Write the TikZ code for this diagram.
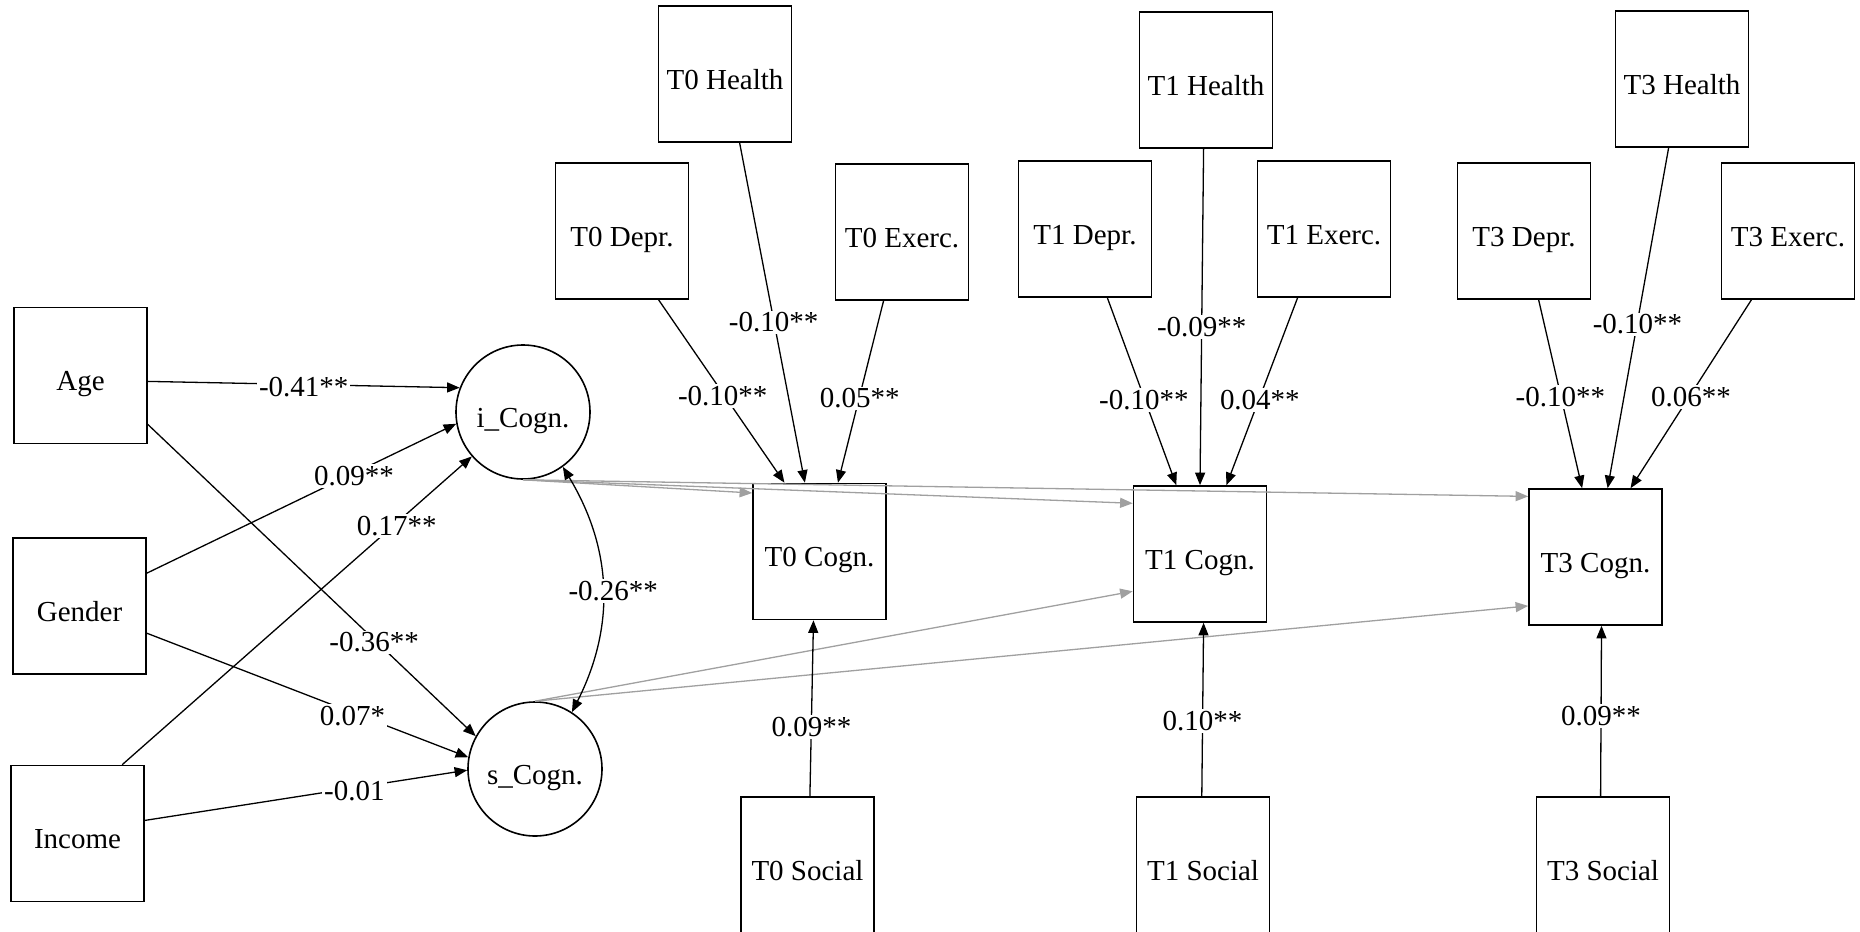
\documentclass[tikz,border=0pt]{standalone}
\usepackage{fontspec}
\setmainfont{Liberation Serif}
\usetikzlibrary{arrows.meta}
\definecolor{pathgray}{RGB}{160,160,160}
\begin{document}
\begin{tikzpicture}[x=0.5pt,y=-0.5pt,
  obs/.style={draw, line width=0.8pt, minimum width=66.5pt, minimum height=68pt, inner sep=0pt, text height=18pt, text depth=3pt, font=\fontsize{14.5}{17}\selectfont},
  lat/.style={draw, circle, line width=0.8pt, minimum size=67pt, inner sep=0pt, text height=18pt, text depth=3pt, font=\fontsize{14.5}{17}\selectfont},
  tip/.style={Triangle[length=6.3pt,width=5pt]},
  arr/.style={line width=0.65pt, -{Triangle[length=6.3pt,width=5pt]}},
  garr/.style={line width=0.65pt, draw=pathgray, color=pathgray, -{Triangle[length=6.3pt,width=5pt]}},
  cov/.style={line width=0.65pt, {Triangle[length=6.3pt,width=5pt]}-{Triangle[length=6.3pt,width=5pt]}},
  lbl/.style={fill=white, inner sep=1pt, text=black, yshift=-1.5pt, font=\fontsize{14.5}{16}\selectfont}]
\useasboundingbox (0,0) rectangle (1860,932);

% observed covariates
\node[obs] (age) at (80.5,375.5) {Age};
\node[obs] (gen) at (79.5,606) {Gender};
\node[obs] (inc) at (77.5,833.5) {Income};
% latent growth factors
\node[lat] (ic) at (523,412) {i\_Cogn.};
\node[lat] (sc) at (535,769) {s\_Cogn.};
% T0
\node[obs] (h0) at (725,74) {T0 Health};
\node[obs] (d0) at (622,231) {T0 Depr.};
\node[obs] (e0) at (902,232) {T0 Exerc.};
\node[obs] (c0) at (819.5,551.5) {T0 Cogn.};
\node[obs] (so0) at (807.5,865) {T0 Social};
% T1
\node[obs] (h1) at (1206,80) {T1 Health};
\node[obs] (d1) at (1085,229) {T1 Depr.};
\node[obs] (e1) at (1324,229) {T1 Exerc.};
\node[obs] (c1) at (1200,554) {T1 Cogn.};
\node[obs] (so1) at (1203,865) {T1 Social};
% T3
\node[obs] (h3) at (1682,79) {T3 Health};
\node[obs] (d3) at (1524,231) {T3 Depr.};
\node[obs] (e3) at (1788,231) {T3 Exerc.};
\node[obs] (c3) at (1595.5,557) {T3 Cogn.};
\node[obs] (so3) at (1603,865) {T3 Social};

% growth loadings (gray)
\draw[garr] (ic.south) -- (c0.139);
\draw[garr] (ic.south) -- (c1.143);
\draw[garr] (ic.south) -- (c3.138);
\draw[garr] (sc.north) -- (c1.209);
\draw[garr] (sc.north) -- (c3.216);

% covariates -> growth factors
\draw[arr] (age.-5) -- node[lbl,pos=0.5] {-0.41**} (ic.159);
\draw[arr] (gen.26) -- node[lbl,pos=0.67] {0.09**} (ic.190);
\draw[arr] (inc.57) -- node[lbl,pos=0.785] {0.17**} (ic.221);
\draw[arr] (age.-36) -- node[lbl,pos=0.69] {-0.36**} (sc.151);
\draw[arr] (gen.-22) -- node[lbl,pos=0.64] {0.07*} (sc.170);
\draw[arr] (inc.11) -- node[lbl,pos=0.65] {-0.01} (sc.181);
\draw[cov] (ic.-54) to[bend left=29] node[lbl,pos=0.5,xshift=5.5pt] {-0.26**} (sc.57);

% T0 predictors
\draw[arr] (d0.-62) -- node[lbl,pos=0.51] {-0.10**} (c0.117);
\draw[arr] (h0.-78) -- node[lbl,pos=0.52] {-0.10**} (c0.102);
\draw[arr] (e0.-105) -- node[lbl,pos=0.52] {0.05**} (c0.75);
\draw[arr] (so0.88) -- node[lbl,pos=0.41] {0.09**} (c0.-95);
% T1 predictors
\draw[arr] (d1.-72) -- node[lbl,pos=0.53] {-0.10**} (c1.109);
\draw[arr] (h1.-92) -- node[lbl,pos=0.52] {-0.09**} (c1.90);
\draw[arr] (e1.-111) -- node[lbl,pos=0.53] {0.04**} (c1.69);
\draw[arr] (so1.91) -- node[lbl,pos=0.45] {0.10**} (c1.-87);
% T3 predictors
\draw[arr] (d3.-78) -- node[lbl,pos=0.5] {-0.10**} (c3.101);
\draw[arr] (h3.-101) -- node[lbl,pos=0.51] {-0.10**} (c3.80);
\draw[arr] (e3.-118) -- node[lbl,pos=0.5] {0.06**} (c3.63);
\draw[arr] (so3.92) -- node[lbl,pos=0.49] {0.09**} (c3.-85);
\end{tikzpicture}
\end{document}
